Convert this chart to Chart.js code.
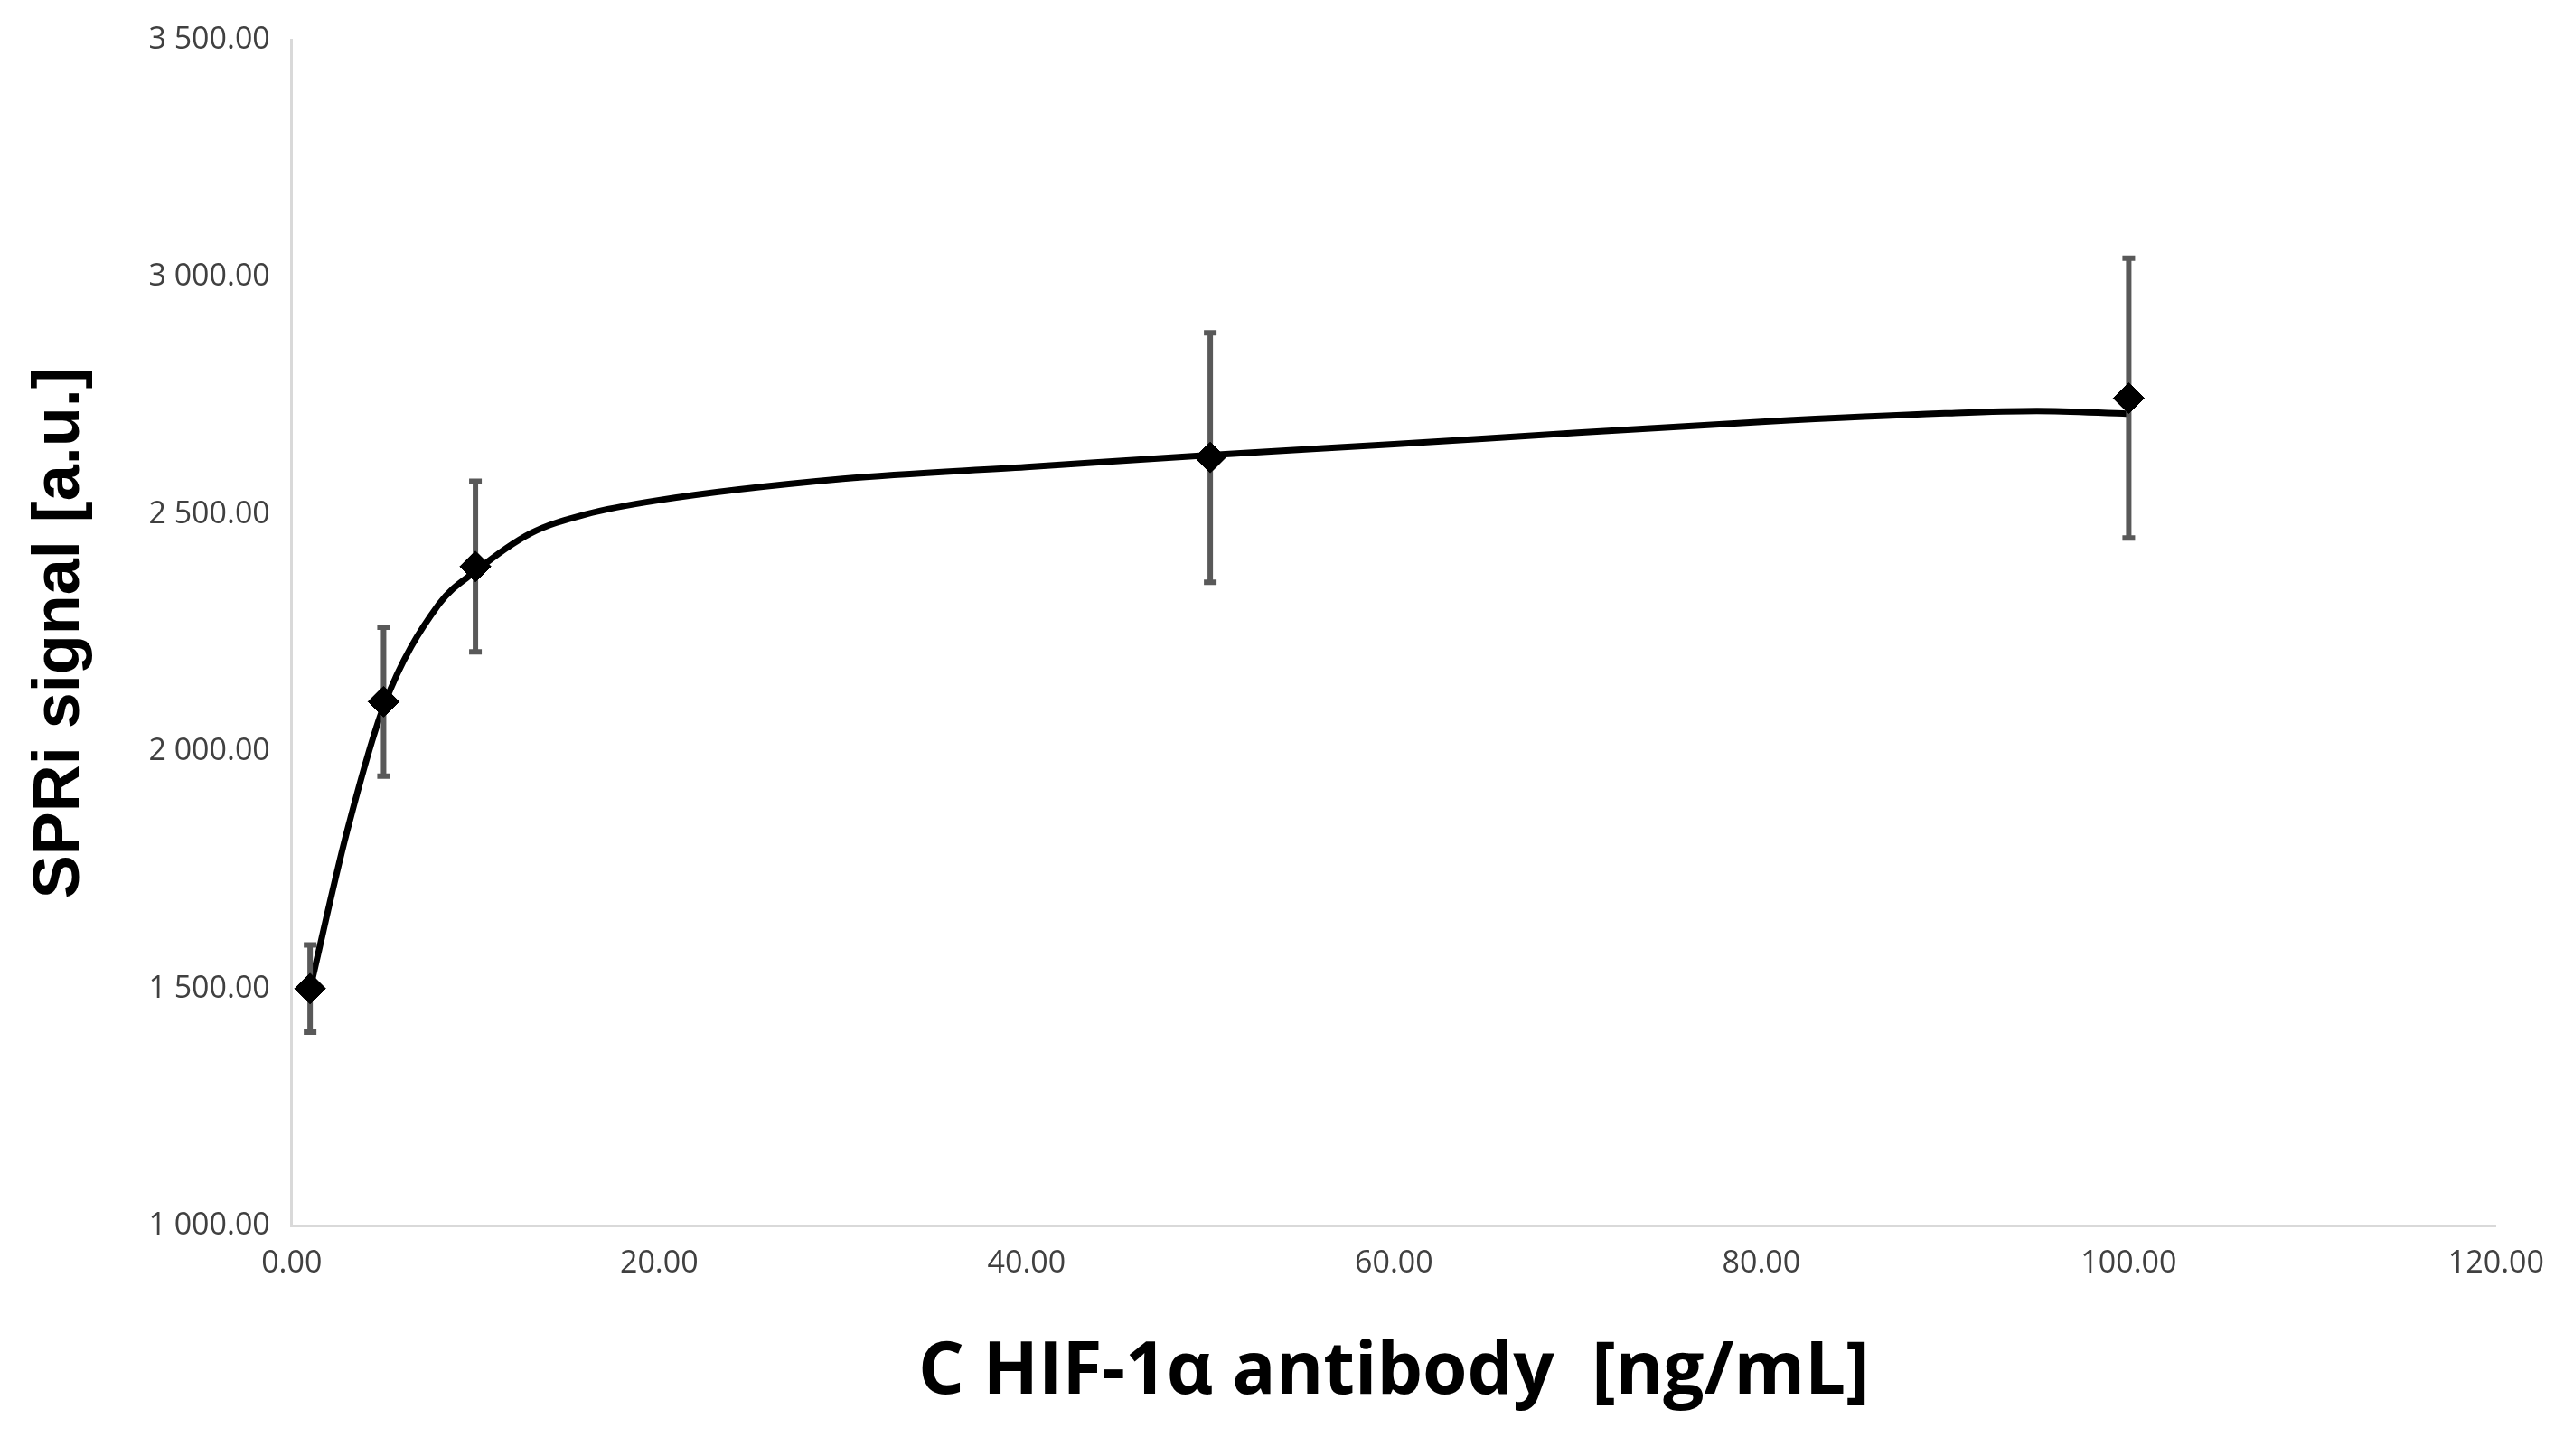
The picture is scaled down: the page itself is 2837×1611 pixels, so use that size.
<!DOCTYPE html>
<html>
<head>
<meta charset="utf-8">
<script src="https://cdn.jsdelivr.net/npm/chart.js@4"></script>
<style>
  html, body { margin: 0; padding: 0; background: #fff; }
  #wrap { width: 2837px; height: 1611px; }
</style>
</head>
<body>
<div id="wrap"><canvas id="chart"></canvas></div>
<script>
// Measured points
const concentrations = [1, 5, 10, 50, 100];
const signals = [1500, 2105, 2390, 2620, 2745];
const errors = [92, 157, 180, 263, 295];

// Fitted curve
const fitX = [1, 3, 5, 8, 10, 13, 16, 20, 30, 40, 50, 60, 70, 80, 90, 95, 100];
const fitY = [1500, 1830, 2095, 2310, 2380, 2460, 2500, 2530, 2575, 2600, 2625, 2648, 2672, 2695, 2713, 2718, 2712];

const xTicks = [0, 20, 40, 60, 80, 100, 120];

const tickFont = { family: "'Liberation Sans Narrow', 'Open Sans', sans-serif", size: 34 };

// Error bars drawn through the scales
const errorBars = {
    id: 'errorBars',
    afterDatasetsDraw(chart) {
        const { ctx, scales: { x, y } } = chart;
        ctx.save();
        ctx.strokeStyle = '#595959';
        ctx.lineWidth = 6;
        concentrations.forEach((c, i) => {
            const px = x.getPixelForValue(c);
            const top = y.getPixelForValue(signals[i] + errors[i]);
            const bot = y.getPixelForValue(signals[i] - errors[i]);
            ctx.beginPath();
            ctx.moveTo(px, top); ctx.lineTo(px, bot);
            ctx.moveTo(px - 7, top); ctx.lineTo(px + 7, top);
            ctx.moveTo(px - 7, bot); ctx.lineTo(px + 7, bot);
            ctx.stroke();
        });
        // redraw markers on top
        chart.getDatasetMeta(1).data.forEach(el => el.draw(ctx));
        ctx.restore();
    }
};

new Chart(document.getElementById('chart'), {
    type: 'scatter',
    data: {
        datasets: [{
            data: fitX.map((v, i) => ({ x: v, y: fitY[i] })),
            showLine: true,
            borderColor: '#000',
            borderWidth: 7,
            pointRadius: 0,
            cubicInterpolationMode: 'monotone'
        }, {
            data: concentrations.map((v, i) => ({ x: v, y: signals[i] })),
            pointStyle: 'rectRot',
            pointRadius: 17,
            backgroundColor: '#000',
            borderColor: '#000'
        }]
    },
    options: {
        responsive: true,
        maintainAspectRatio: false,
        animation: false,
        layout: { padding: { left: 20, right: 60, top: 30, bottom: 40 } },
        plugins: { legend: { display: false }, tooltip: { enabled: false } },
        scales: {
            x: {
                type: 'linear', min: 0, max: 120,
                afterBuildTicks: axis => { axis.ticks = xTicks.map(v => ({ value: v })); },
                grid: { display: false, drawTicks: false },
                border: { color: '#d9d9d9', width: 3 },
                ticks: { font: tickFont, color: '#404040', padding: 22, maxRotation: 0,
                         callback: v => v.toFixed(2) },
                title: { display: true, text: 'C HIF-1α antibody  [ng/mL]', color: '#000',
                         font: { family: "'Open Sans', sans-serif", size: 80, weight: 'bold' },
                         padding: { top: 30 } }
            },
            y: {
                min: 1000, max: 3500,
                ticks: { stepSize: 500, font: tickFont, color: '#404040', padding: 24,
                         callback: v => v.toFixed(2).replace(/\B(?=(\d{3})+(?!\d))/g, ' ') },
                grid: { display: false, drawTicks: false },
                border: { color: '#d9d9d9', width: 3 },
                title: { display: true, text: 'SPRi signal [a.u.]', color: '#000',
                         font: { family: "'Liberation Sans', Arial, sans-serif", size: 72, weight: 'bold' },
                         padding: { bottom: 30 } }
            }
        }
    },
    plugins: [errorBars]
});
</script>
</body>
</html>
